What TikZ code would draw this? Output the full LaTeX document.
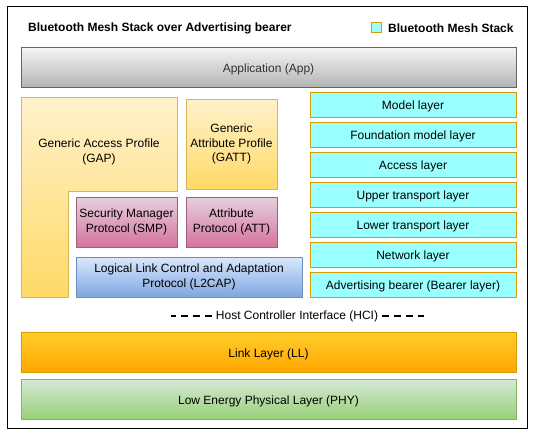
\documentclass[tikz,border=0pt]{standalone}
\usepackage{fontspec}
\setmainfont{Liberation Sans}

\definecolor{apptop}{HTML}{F5F5F5}
\definecolor{appbot}{HTML}{B3B3B3}
\definecolor{appline}{HTML}{666666}
\definecolor{apptext}{HTML}{333333}
\definecolor{gaptop}{HTML}{FFF2CC}
\definecolor{gapbot}{HTML}{FFD966}
\definecolor{gapline}{HTML}{D6B656}
\definecolor{smptop}{HTML}{E6D0DE}
\definecolor{smpbot}{HTML}{D5739D}
\definecolor{smpline}{HTML}{996185}
\definecolor{ltop}{HTML}{DAE8FC}
\definecolor{lbot}{HTML}{7EA6E0}
\definecolor{lline}{HTML}{6C8EBF}
\definecolor{meshfill}{HTML}{99FFFF}
\definecolor{orangeline}{HTML}{D79B00}
\definecolor{lltop}{HTML}{FFCD28}
\definecolor{llbot}{HTML}{FFA500}
\definecolor{phytop}{HTML}{D5E8D4}
\definecolor{phybot}{HTML}{97D077}
\definecolor{phyline}{HTML}{82B366}

\begin{document}
\begin{tikzpicture}[x=1pt,y=-1pt,
    lbl/.style={font=\fontsize{12}{14.5}\selectfont, align=center, inner sep=0pt, execute at begin node={\rule{0pt}{13pt}}},
    layer/.style={lbl, draw, line width=1pt},
    appbox/.style={layer, draw=appline, top color=apptop, bottom color=appbot, text=apptext},
    gapbox/.style={draw=gapline, line width=1pt, top color=gaptop, bottom color=gapbot},
    smpbox/.style={layer, draw=smpline, top color=smptop, bottom color=smpbot},
    lcapbox/.style={layer, draw=lline, top color=ltop, bottom color=lbot},
    meshbox/.style={layer, draw=orangeline, fill=meshfill},
    llbox/.style={layer, draw=orangeline, top color=lltop, bottom color=llbot},
    phybox/.style={layer, draw=phyline, top color=phytop, bottom color=phybot},
    hcidash/.style={line width=1.6pt, dash pattern=on 6.5pt off 5.5pt}]
  \useasboundingbox (0,0) rectangle (534,433);
  % outer frame
  \draw[line width=1pt] (7,7) rectangle (527,428);
  % title and legend
  \node[lbl, anchor=west, font=\fontsize{12}{14}\selectfont\bfseries] (title) at (28,26.5) {Bluetooth Mesh Stack over Advertising bearer};
  \node[draw=orangeline, fill=meshfill, line width=1pt, inner sep=0pt, minimum size=10] (legbox) at (376,28) {};
  \node[lbl, anchor=west, font=\fontsize{12}{14}\selectfont\bfseries] (legtext) at (388,26.5) {Bluetooth Mesh Stack};
  % host side
  \node[appbox, minimum width=495, minimum height=40] (app) at (268.5,67.5) {Application (App)};
  \path[gapbox] (21,97) -- (177,97) -- (177,191) -- (68,191) -- (68,297) -- (21,297) -- cycle;
  \node[lbl] (gap) at (99,152) {Generic Access Profile\\(GAP)};
  \node[layer, draw=gapline, top color=gaptop, bottom color=gapbot, minimum width=91, minimum height=90] (gatt) at (231.5,144) {Generic\\Attribute Profile\\(GATT)};
  \node[smpbox, minimum width=101, minimum height=50] (smp) at (126.5,222) {Security Manager\\Protocol (SMP)};
  \node[smpbox, minimum width=91, minimum height=50] (att) at (231.5,222) {Attribute\\Protocol (ATT)};
  \node[lcapbox, minimum width=226, minimum height=40] (l2cap) at (189,277) {Logical Link Control and Adaptation\\Protocol (L2CAP)};
  % mesh stack
  \foreach \name/\txt [count=\i from 0] in {model/Model layer, found/Foundation model layer, access/Access layer, upper/Upper transport layer, lower/Lower transport layer, network/Network layer, bearer/Advertising bearer (Bearer layer)}
    \node[meshbox, minimum width=206, minimum height=25] (\name) at (413,{104.5+30*\i}) {\txt};
  % HCI
  \node[lbl, inner sep=4pt] (hci) at (297,314) {Host Controller Interface (HCI)};
  \coordinate (hcia) at (170.5,316);
  \coordinate (hcib) at (423.5,316);
  \draw[hcidash] (hci.west |- hcia) -- (hcia);
  \draw[hcidash] (hci.east |- hcib) -- (hcib);
  % controller side
  \node[llbox, minimum width=495, minimum height=40] (ll) at (268.5,352.5) {Link Layer (LL)};
  \node[phybox, minimum width=495, minimum height=40] (phy) at (268.5,399.5) {Low Energy Physical Layer (PHY)};
\end{tikzpicture}
\end{document}
